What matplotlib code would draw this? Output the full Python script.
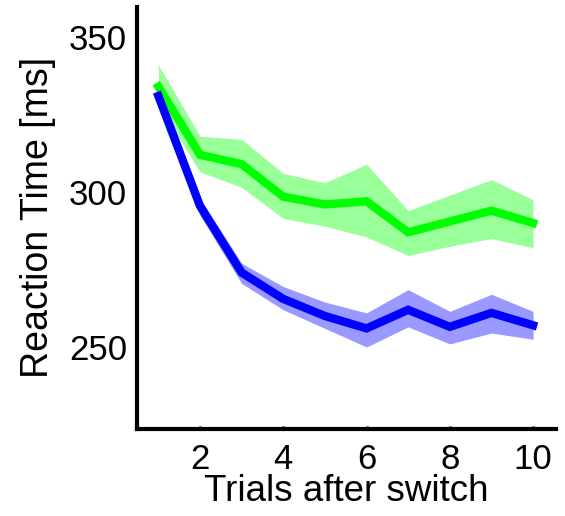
import matplotlib
matplotlib.use("Agg")
import matplotlib.pyplot as plt
import numpy as np

plt.rcParams['font.family'] = ['Liberation Sans', 'DejaVu Sans']

trials = [1, 2, 3, 4, 5, 6, 7, 8, 9, 10]

# condition plotted in green: mean and shaded error band
green_mean = [334, 312, 309, 298.5, 296, 297, 287, 290.5, 294, 290]
green_upper = [341, 318, 317, 306, 303, 309, 294, 299, 304, 297.5]
green_lower = [328, 306.5, 301.5, 291.5, 289, 285.5, 279.5, 282.5, 285, 282]

# condition plotted in blue: mean and shaded error band
blue_mean = [331, 295.5, 274, 265.5, 260, 256, 262, 256.5, 261, 257]
blue_upper = [335.5, 298, 277, 269.5, 264.5, 261, 268.5, 261.5, 267, 261.5]
blue_lower = [327.5, 292.5, 270.5, 262, 256, 250, 256.5, 251, 254.5, 252.5]

x_ticks = [2, 4, 6, 8, 10]
y_ticks = [250, 300, 350]

fig = plt.figure(figsize=(5.65, 5.16), dpi=100)
ax = fig.add_axes([0.242, 0.169, 0.742, 0.818])

ax.fill_between(trials, green_lower, green_upper, color=(0.6, 1.0, 0.6), lw=0)
ax.plot(trials, green_mean, color=(0.0, 1.0, 0.0), lw=6, solid_joinstyle='miter')
ax.fill_between(trials, blue_lower, blue_upper, color=(0.6, 0.6, 1.0), lw=0)
ax.plot(trials, blue_mean, color=(0.0, 0.0, 1.0), lw=6, solid_joinstyle='miter')

ax.set_xlim(0.48, 10.55)
ax.set_ylim(223.6, 359.8)
ax.set_xticks(x_ticks)
ax.set_yticks(y_ticks)

for side in ('top', 'right'):
    ax.spines[side].set_visible(False)
for side in ('left', 'bottom'):
    ax.spines[side].set_linewidth(3)
    ax.spines[side].set_capstyle('projecting')

ax.tick_params(axis='x', direction='in', length=2.5, width=2, labelsize=25, pad=10)
ax.tick_params(axis='y', direction='in', length=0, labelsize=25, pad=7)

ax.set_xlabel('Trials after switch', fontsize=26.5, labelpad=-1)
ax.set_ylabel('Reaction Time [ms]', fontsize=27, labelpad=9)

fig.savefig('out.png', dpi=100)
